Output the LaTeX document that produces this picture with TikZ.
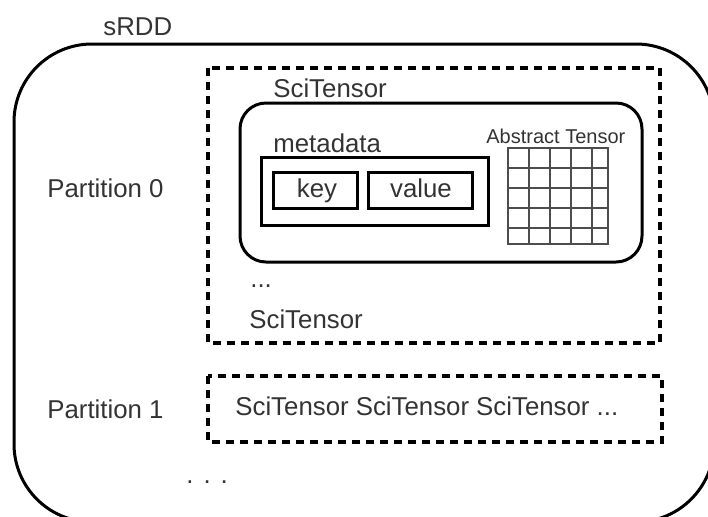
\documentclass[tikz,border=0pt]{standalone}
\usepackage{fontspec}
\setmainfont{Liberation Sans}
\usepackage{xcolor}
\definecolor{rdarkgray}{HTML}{333333}
\definecolor{rgridgray}{HTML}{4d4d4d}
\tikzset{
	boxline/.style={draw=black, line width=1.5pt},
	dashbox/.style={draw=black, line width=1.8pt, dash pattern=on 4pt off 3pt},
	lbl/.style={text=rdarkgray, font=\fontsize{12.9}{15}\selectfont, inner sep=0pt, anchor=base west},
	smalllbl/.style={text=rdarkgray, font=\fontsize{10}{12}\selectfont, inner sep=0pt, anchor=base west},
}

\begin{document}
\begin{tikzpicture}[x=0.5pt, y=-0.5pt]
		\useasboundingbox (0,0) rectangle (708,516);
		\clip (0,0) rectangle (708,516);
		% sRDD
		\draw[boxline, rounded corners=39pt] (14,44) rectangle (714,522);
		\node[lbl] (srdd) at (103,35) {sRDD};
		\node[lbl] (part0) at (47,197) {Partition 0};
		\node[lbl] (part1) at (47,418) {Partition 1};
		\node[lbl] (moreparts) at (186,483) {.\hspace{5pt}.\hspace{5pt}.};
		% partition 0
		\draw[dashbox] (208,68) rectangle (660,343);
		\node[lbl] (tensorA) at (273,97) {SciTensor};
		\draw[boxline, rounded corners=13pt] (240,103) rectangle (642,262);
		\node[lbl] (meta) at (273,152) {metadata};
		\draw[boxline] (261,157) rectangle (488,225);
		\draw[boxline] (273,172) rectangle (357,208);
		\draw[boxline] (368,172) rectangle (472,208);
		\node[lbl, anchor=base] (key) at (317,197) {key};
		\node[lbl, anchor=base] (val) at (421,197) {value};
		\node[smalllbl] (abst) at (486,143) {Abstract Tensor};
		\begin{scope}[shift={(508,148)}]
			\foreach \gx in {21,42,63,84}
				\draw[rgridgray, line width=0.7pt] (\gx,0) -- (\gx,96);
			\foreach \gy in {20,40,60,80}
				\draw[rgridgray, line width=0.7pt] (0,\gy) -- (100,\gy);
			\draw[rgridgray, line width=0.9pt] (0,0) rectangle (100,96);
		\end{scope}
		\node[lbl] (dotsA) at (250,287) {...};
		\node[lbl] (tensorB) at (249,328) {SciTensor};
		% partition 1
		\draw[dashbox] (208,376) rectangle (662,442);
		\node[lbl] (tensorrow) at (235,415) {SciTensor SciTensor SciTensor ...};
	\end{tikzpicture}
\end{document}
